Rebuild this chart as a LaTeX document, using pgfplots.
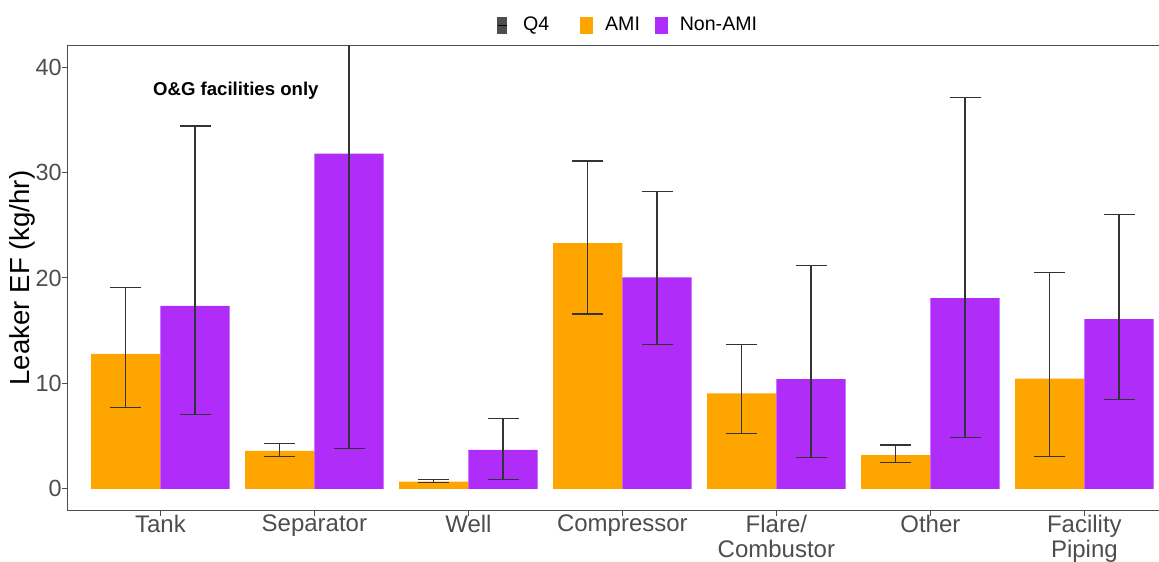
\documentclass[border=0pt]{standalone}
\usepackage{fontspec}
\setmainfont{Liberation Sans}
\usepackage{pgfplots}
\pgfplotsset{compat=1.18}
\definecolor{amiorange}{HTML}{FFA500}
\definecolor{nonpurple}{HTML}{B02CF8}
\definecolor{errgray}{HTML}{333333}
\definecolor{ticktext}{HTML}{4D4D4D}
\begin{document}
\begin{tikzpicture}
\begin{axis}[
  at={(0,0)}, anchor=south west,
  scale only axis, width=554.4pt, height=232pt,
  xmin=0.4, xmax=7.6, ymin=-2, ymax=42,
  axis line style={draw=ticktext, line width=0.5pt},
  xtick={1,2,3,4,5,6,7},
  xticklabels={Tank, Separator, Well, Compressor, Flare/\\Combustor, Other, Facility\\Piping},
  ytick={0,10,20,30,40},
  tick align=outside, major tick length=3pt,
  tick style={draw=ticktext, line width=0.5pt},
  xtick pos=bottom, ytick pos=left,
  xticklabel style={align=center, font=\fontsize{12}{12.5}\selectfont, text=ticktext, yshift=4pt},
  yticklabel style={font=\fontsize{11.7}{14}\selectfont, text=ticktext, inner sep=0pt},
  /pgf/number format/assume math mode=true,
  ylabel={Leaker EF (kg/hr)},
  every axis y label/.style={at={(axis description cs:0,0.5)}, xshift=-23pt, rotate=90, anchor=center, font=\fontsize{13.8}{16}\selectfont},
  ybar, bar width=0.45, bar shift=0pt,
  clip=true,
  legend columns=3,
  legend style={at={(axis description cs:0.506,1.045)}, anchor=center, draw=none, fill=none, font=\fontsize{9.8}{12}\selectfont,
    /tikz/every odd column/.append style={column sep=4pt},
    /tikz/every even column/.append style={column sep=5.5pt}},
  legend cell align=left,
  error bars/error bar style={draw=errgray, line width=0.65pt},
  error bars/error mark options={draw=errgray, line width=0.65pt, mark size=7.75pt, rotate=90},
]
\addlegendimage{legend image code/.code={\fill[ticktext] (0pt,-4pt) rectangle (4.5pt,4pt); \draw[black, line width=0.6pt] (0pt,0pt) -- (4.5pt,0pt);}}
\addlegendentry{\kern2pt Q4\kern8pt}
\addlegendimage{legend image code/.code={\fill[amiorange] (0pt,-4pt) rectangle (6pt,4pt);}}
\addlegendentry{AMI}
\addlegendimage{legend image code/.code={\fill[nonpurple] (0pt,-4pt) rectangle (6pt,4pt);}}
\addlegendentry{Non-AMI}

\addplot[forget plot, fill=amiorange, draw=none, error bars/.cd, y dir=both, y explicit] coordinates {
  (0.775,12.8) += (0,6.3) -= (0,5.05)
  (1.775,3.6) += (0,0.7) -= (0,0.5)
  (2.775,0.7) += (0,0.2) -= (0,0.1)
  (3.775,23.3) += (0,7.8) -= (0,6.7)
  (4.775,9.05) += (0,4.65) -= (0,3.8)
  (5.775,3.2) += (0,0.95) -= (0,0.7)
  (6.775,10.45) += (0,10.05) -= (0,7.35)
};
\addplot[forget plot, fill=nonpurple, draw=none, error bars/.cd, y dir=both, y explicit] coordinates {
  (1.225,17.35) += (0,17.05) -= (0,10.3)
  (2.225,31.8) += (0,28.2) -= (0,28.0)
  (3.225,3.7) += (0,2.95) -= (0,2.8)
  (4.225,20.05) += (0,8.15) -= (0,6.35)
  (5.225,10.4) += (0,10.8) -= (0,7.4)
  (6.225,18.1) += (0,19.0) -= (0,13.2)
  (7.225,16.1) += (0,9.9) -= (0,7.65)
};
\node[font=\bfseries\fontsize{9.3}{12}\selectfont] at (axis cs:1.49,37.8) {O\&G facilities only};
\end{axis}
\pgfresetboundingbox
\path[use as bounding box] (-34pt,-25.5pt) rectangle (545.5pt,255pt);
\end{tikzpicture}
\end{document}
